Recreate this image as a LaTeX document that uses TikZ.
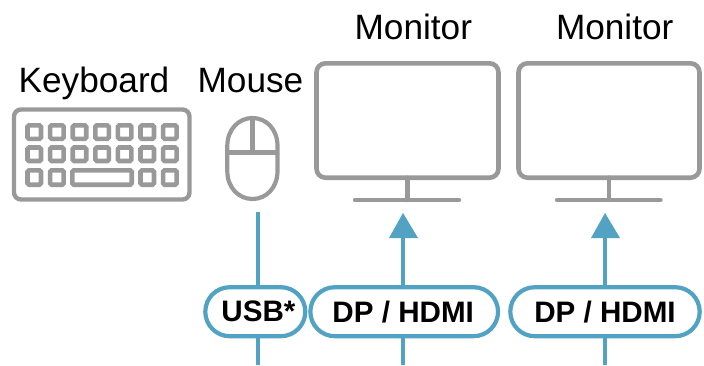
\documentclass[tikz,border=0pt]{standalone}
\usepackage{fontspec}
\setmainfont{Liberation Sans}
\definecolor{gry}{HTML}{999999}
\definecolor{blu}{HTML}{52A2C3}
\tikzset{
  x=1pt,y=-1pt,
  dev/.style={draw=gry,line width=4.6pt,rounded corners=9pt},
  kbd/.style={draw=gry,line width=4.4pt,rounded corners=7pt},
  keycap/.style={draw=gry,line width=4.6pt,rounded corners=1.5pt},
  gline/.style={draw=gry,line width=4.4pt,line cap=round},
  wire/.style={draw=blu,line width=4.2pt},
  pill/.style={draw=blu,fill=white,line width=4.2pt,rounded corners=24.5pt,inner sep=0pt,minimum height=49pt,font=\fontsize{29.6pt}{31pt}\selectfont\bfseries,text=black,anchor=center},
  lbl/.style={font=\fontsize{35.2pt}{37pt}\selectfont,text=black,inner sep=0pt,anchor=base},
  tip/.style={fill=blu,draw=none}
}
\begin{document}
\begin{tikzpicture}
\useasboundingbox (0,0) rectangle (704,365);
% labels
\node[lbl] (lk) at (94,92.5) {Keyboard};
\node[lbl] (lm) at (250.5,92.5) {Mouse};
\node[lbl] (lm1) at (413.3,39.3) {Monitor};
\node[lbl] (lm2) at (614.7,39.3) {Monitor};
% keyboard
\draw[kbd] (14,109.5) rectangle (189.5,199.5);
\foreach \r/\yt/\yb in {1/125.3/138.8,2/147.5/161}{
 \foreach \i in {0,...,6}{
  \draw[keycap] ({27.5+22.6*\i},\yt) rectangle ({41+22.6*\i},\yb);
 }}
\foreach \i in {0,1,5,6}{
  \draw[keycap] ({27.5+22.6*\i},170.3) rectangle ({41+22.6*\i},184.7);
}
\draw[keycap] (72.3,170.3) rectangle (131.7,184.7);
% mouse
\draw[draw=gry,line width=4.2pt] (227.3,146) .. controls (227.3,129) and (239,118) .. (252.5,118) .. controls (266,118) and (277.5,129) .. (277.5,146) -- (277.5,171) .. controls (277.5,188) and (266,199) .. (252.5,199) .. controls (239,199) and (227.3,188) .. (227.3,171) -- cycle;
\draw[draw=gry,line width=4.2pt] (227.3,152.5) -- (277.5,152.5);
\draw[draw=gry,line width=4.2pt] (252.5,118) -- (252.5,152.5);
% monitors
\draw[dev] (316.5,63.3) rectangle (498.5,177.7);
\draw[gline] (407.3,177.7) -- (407.3,200);
\draw[gline] (355,200) -- (459,200);
\draw[dev] (518.5,63.3) rectangle (699.5,177.7);
\draw[gline] (608.7,177.7) -- (608.7,200);
\draw[gline] (557,200) -- (660.5,200);
% pills
\coordinate (c1t) at (258,212);
\coordinate (c1b) at (258,365);
\coordinate (c2t) at (403,236);
\coordinate (c2b) at (403,365);
\coordinate (c3t) at (605,236);
\coordinate (c3b) at (605,365);
\draw[wire] (c1t) -- (c1b);
\draw[wire] (c2t) -- (c2b);
\draw[wire] (c3t) -- (c3b);
\fill[tip] (403,213) -- (418,238) -- (389,238) -- cycle;
\fill[tip] (605,213) -- (620,238) -- (591,238) -- cycle;
\node[pill,minimum width=100pt] (usb) at (255.3,311.7) {\hspace*{6.4pt}USB*};
\node[pill,minimum width=187.7pt] (dp1) at (404.2,311.7) {DP / HDMI\hspace*{2pt}};
\node[pill,minimum width=189.4pt] (dp2) at (605,311.7) {DP / HDMI};
\end{tikzpicture}
\end{document}
